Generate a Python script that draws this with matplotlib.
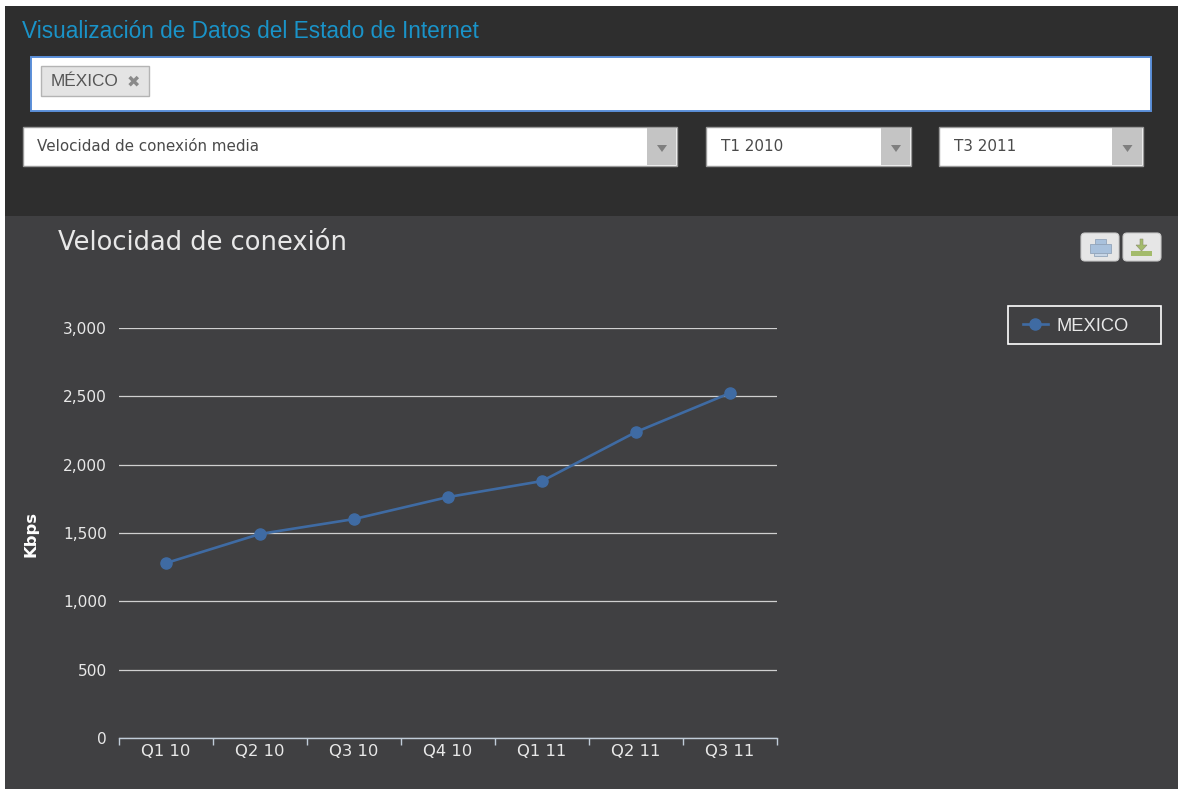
#!/usr/bin/env python3
# -*- coding: utf-8 -*-
"""Velocidad de conexion dashboard: UI chrome plus the line chart."""
import matplotlib
matplotlib.use("Agg")
import matplotlib.pyplot as plt
from matplotlib.patches import Rectangle, FancyBboxPatch, Polygon

W, H = 1178, 789

quarters = ["Q1 10", "Q2 10", "Q3 10", "Q4 10", "Q1 11", "Q2 11", "Q3 11"]
kbps = [1280, 1493, 1602, 1763, 1880, 2239, 2524]
y_ticks = [0, 500, 1000, 1500, 2000, 2500, 3000]
series_name = "MEXICO"

LINE = "#3f6ba3"
PANEL = "#404042"
TOP = "#2e2e2e"
LIGHT = "#e8e8e8"

fig = plt.figure(figsize=(W / 100, H / 100), dpi=100, facecolor="white")

# overlay in pixel coordinates for the page furniture
ui = fig.add_axes([0, 0, 1, 1])
ui.set_xlim(0, W)
ui.set_ylim(H, 0)
ui.axis("off")


def box(x0, y0, x1, y1, fc, ec="none", lw=0.0, z=1):
    ui.add_patch(Rectangle((x0, y0), x1 - x0, y1 - y0, fc=fc, ec=ec, lw=lw, zorder=z))


def dropdown(x0, x1, arrow_x, label, text_x):
    box(x0, 127, x1, 166, "white", "#9a9a9a", 1.0)
    box(arrow_x, 128, x1 - 1, 165, "#c4c4c4", z=2)
    c = (arrow_x + x1) / 2
    ui.add_patch(Polygon([(c - 5, 145), (c + 5, 145), (c, 152)], fc="#7f7f7f", ec="none", zorder=3))
    ui.text(text_x, 146.5, label, fontsize=10.9, color="#4a4a4a", family="DejaVu Sans",
            va="center", ha="left", zorder=3)


box(5, 6, W, 216, TOP)
box(5, 216, W, H, PANEL)

ui.text(22, 31, "Visualización de Datos del Estado de Internet", fontsize=16.3,
        color="#1a93c8", family="Liberation Sans", va="center", ha="left")

# search box with the tag
box(31, 57, 1151, 111, "white", "#5b8fd9", 1.4)
box(41, 66, 149, 96, "#e4e4e4", "#b4b4b4", 1.0, z=2)
ui.text(51, 81.5, "MÉXICO", fontsize=12.4, color="#555555", family="Liberation Sans",
        va="center", ha="left", zorder=3)
ui.text(133, 82, "✖", fontsize=11.5, color="#8a8a8a", family="DejaVu Sans",
        va="center", ha="center", zorder=3)

dropdown(23, 677, 647, "Velocidad de conexión media", 37)
dropdown(706, 911, 881, "T1 2010", 721)
dropdown(939, 1143, 1112, "T3 2011", 954)

ui.text(58, 243, "Velocidad de conexión", fontsize=18.5, color=LIGHT,
        family="DejaVu Sans", va="center", ha="left")

# print / download buttons
for x0 in [1081, 1123]:
    ui.add_patch(FancyBboxPatch((x0 + 2, 235), 34, 24, boxstyle="round,pad=2,rounding_size=4",
                                fc="#e6e6e6", ec="#c8c8c8", lw=0.8, zorder=2))
box(1090, 244, 1111, 253, "#a9c1dc", "#93a5ba", 0.6, z=3)
box(1095, 239, 1106, 244, "#a9c1dc", "#93a5ba", 0.6, z=3)
box(1094, 253, 1107, 256, "#c8d6e6", "#93a5ba", 0.6, z=3)
box(1131, 251, 1152, 256, "#a3bb6b", "none", z=3)
ui.add_patch(Polygon([(1140, 239), (1143, 239), (1143, 245), (1147, 245), (1141.5, 251), (1136, 245), (1140, 245)],
                     fc="#a3bb6b", ec="#8d8d6d", lw=0.4, zorder=3))

# legend frame, the legend itself goes on top without a frame
box(1008, 306, 1161, 344, PANEL, "white", 1.2)

# chart
ax = fig.add_axes([119 / W, 1 - 738 / H, (777 - 119) / W, (738 - 328) / H])
ax.patch.set_alpha(0)
pos = list(range(len(quarters)))
line, = ax.plot(pos, kbps, color=LINE, lw=1.9, marker="o", ms=8, mec=LINE,
                label=series_name, zorder=4, clip_on=False)
ax.set_xlim(-0.5, len(quarters) - 0.5)
ax.set_ylim(0, 3000)
ax.set_yticks(y_ticks)
ax.set_yticklabels([f"{v:,}" for v in y_ticks], fontsize=11.1, color=LIGHT, family="DejaVu Sans")
ax.yaxis.grid(True, color="#d0d0d0", lw=0.9)
ax.set_axisbelow(True)
ax.tick_params(axis="y", length=0, pad=8.5)

ax.set_xticks([p - 0.5 for p in pos] + [pos[-1] + 0.5])
ax.set_xticklabels([])
ax.tick_params(axis="x", length=5, direction="out", width=1, color="#c0ccd8")
ax.set_xticks(pos, minor=True)
ax.set_xticklabels(quarters, minor=True, fontsize=11.8, color=LIGHT, family="DejaVu Sans")
ax.tick_params(axis="x", which="minor", length=0, pad=4)

for s in ["top", "left", "right"]:
    ax.spines[s].set_visible(False)
ax.spines["bottom"].set_color("#c0ccd8")
ax.spines["bottom"].set_linewidth(1)

ui.text(31, 534, "Kbps", fontsize=11.8, fontweight="bold", color="white", rotation=90,
        family="DejaVu Sans", va="center", ha="center")

leg = ax.legend(handles=[line], loc="center left", bbox_to_anchor=(1023 / W, 1 - 326 / H),
                bbox_transform=fig.transFigure, frameon=False, handlelength=1.36,
                borderaxespad=0, borderpad=0, handletextpad=0.44,
                prop={"family": "Liberation Sans", "size": 13.2})
for t in leg.get_texts():
    t.set_color(LIGHT)

fig.savefig("out.png", dpi=100)
